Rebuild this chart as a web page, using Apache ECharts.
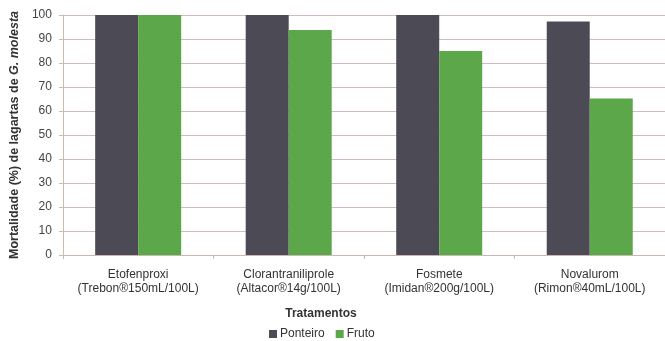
<!DOCTYPE html>
<html>
<head>
<meta charset="utf-8">
<script src="https://cdn.jsdelivr.net/npm/echarts@6/dist/echarts.min.js"></script>
<style>
  html, body { margin: 0; padding: 0; background: #ffffff; }
  #chart { width: 665px; height: 341px; }
</style>
</head>
<body>
<div id="chart"></div>
<script>
// Treatments (active ingredient + product and dose)
const categories = [
  'Etofenproxi\n(Trebon®150mL/100L)',
  'Clorantraniliprole\n(Altacor®14g/100L)',
  'Fosmete\n(Imidan®200g/100L)',
  'Novalurom\n(Rimon®40mL/100L)'
];
// Larval mortality (%) by fruit part
const ponteiro = [100, 100, 100, 97.3];
const fruto = [100, 93.8, 85, 65.2];
const yTicks = [0, 10, 20, 30, 40, 50, 60, 70, 80, 90, 100];

const chart = echarts.init(document.getElementById('chart'));
const font = '"Liberation Sans", Arial, sans-serif';

chart.setOption({
  animation: false,
  textStyle: { fontFamily: font },
  grid: { left: 60, top: 15, width: 608, bottom: 86, containLabel: false },
  legend: {
    bottom: 1,
    left: 269,
    padding: 0,
    itemWidth: 8,
    itemHeight: 8,
    itemGap: 11,
    icon: 'rect',
    textStyle: { fontFamily: font, fontSize: 12, color: '#333', padding: [0, 0, 0, -2] },
    data: ['Ponteiro', 'Fruto']
  },
  xAxis: {
    type: 'category',
    data: categories,
    name: 'Tratamentos',
    nameLocation: 'middle',
    nameGap: 53,
    nameTextStyle: {
      fontFamily: font, fontSize: 12, fontWeight: 'bold', color: '#333',
      padding: [0, 86, 0, 0]
    },
    axisLine: { lineStyle: { color: '#c9b8b0', width: 1 } },
    axisTick: { show: true, length: 4, lineStyle: { color: '#c9b8b0' } },
    axisLabel: {
      interval: 0,
      fontFamily: font, fontSize: 12, color: '#333', lineHeight: 14, margin: 13
    }
  },
  yAxis: {
    type: 'value',
    min: yTicks[0],
    max: yTicks[yTicks.length - 1],
    interval: 10,
    name: 'Mortalidade (%) de lagartas de {i|G. molesta}',
    nameLocation: 'middle',
    nameGap: 39,
    nameRotate: 90,
    nameTextStyle: {
      fontFamily: font, fontSize: 12.5, fontWeight: 'bold', color: '#333',
      rich: { i: { fontFamily: font, fontSize: 12.5, fontWeight: 'bold', fontStyle: 'italic', color: '#333' } }
    },
    axisLine: { show: true, lineStyle: { color: '#cdbba5', width: 1 } },
    axisTick: { show: true, length: 4, inside: false, lineStyle: { color: '#cdbba5' } },
    axisLabel: { fontFamily: font, fontSize: 12, color: '#444', margin: 11 },
    splitLine: { show: true, lineStyle: { color: '#cdbcc0', width: 1 } }
  },
  series: [
    {
      name: 'Ponteiro',
      type: 'bar',
      data: ponteiro,
      barWidth: 43,
      barGap: '0%',
      itemStyle: { color: '#4c4b55' }
    },
    {
      name: 'Fruto',
      type: 'bar',
      data: fruto,
      barWidth: 43,
      barGap: '0%',
      itemStyle: { color: '#5ca749' }
    }
  ]
});
</script>
</body>
</html>
